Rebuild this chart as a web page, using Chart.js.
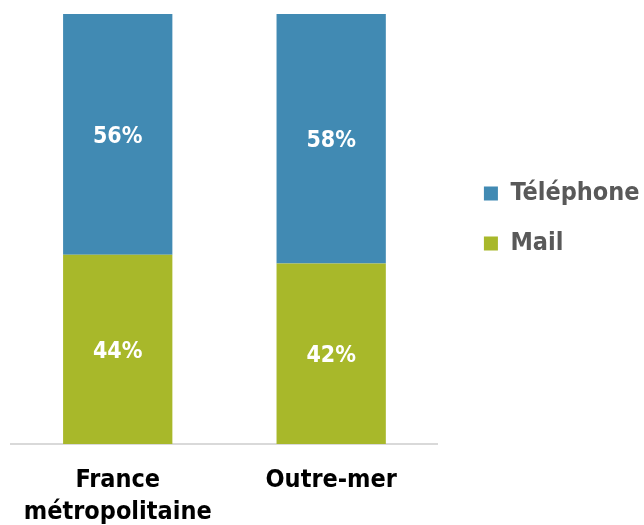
<!DOCTYPE html>
<html><head><meta charset="utf-8">
<script src="https://cdn.jsdelivr.net/npm/chart.js@4/dist/chart.umd.min.js"></script>
<style>html,body{margin:0;padding:0;background:#fff}#wrap{width:644px;height:525px}</style>
</head><body><div id="wrap"><canvas id="c" width="644" height="525"></canvas></div>
<script>
const categories = [["France", "métropolitaine"], "Outre-mer"];
const mailValues = [44, 42];
const telephoneValues = [56, 58];
const seriesNames = ["Mail", "Téléphone"];

const FONT = '"DejaVu Sans Condensed", "DejaVu Sans"';
const LEGEND_SHIFT = 21;

const labelPlugin = {
  id: 'barLabels',
  afterLayout(chart) {
    // move the legend a little further right, leaving the plot area in place
    const lg = chart.legend;
    if (lg) { lg.left += LEGEND_SHIFT; lg.right += LEGEND_SHIFT; }
  },
  afterDatasetsDraw(chart) {
    const ctx = chart.ctx;
    const size = 23;
    ctx.save();
    ctx.fillStyle = '#ffffff';
    ctx.font = 'bold ' + size + 'px ' + FONT;
    ctx.textAlign = 'center';
    ctx.textBaseline = 'alphabetic';
    chart.data.datasets.forEach((ds, i) => {
      chart.getDatasetMeta(i).data.forEach((bar, j) => {
        const y = (bar.y + bar.base) / 2 + size * 0.729 / 2;
        ctx.fillText(ds.data[j] + '%', bar.x, y);
      });
    });
    ctx.restore();
  }
};

new Chart(document.getElementById('c'), {
  type: 'bar',
  data: {
    labels: categories,
    datasets: [
      { label: seriesNames[0], data: mailValues, backgroundColor: '#A8B82A' },
      { label: seriesNames[1], data: telephoneValues, backgroundColor: '#418AB3' }
    ]
  },
  options: {
    responsive: false,
    animation: false,
    layout: { padding: { left: 11, top: 14, right: 15.5, bottom: -24 } },
    datasets: { bar: { categoryPercentage: 1.0, barPercentage: 0.512 } },
    scales: {
      x: {
        stacked: true,
        grid: { display: false, drawTicks: false },
        border: { display: true, color: '#D9D9D9', width: 2 },
        ticks: { color: '#000', font: { family: FONT, weight: 'bold', size: 25, lineHeight: 1.26 }, padding: 21, maxRotation: 0, autoSkip: false }
      },
      y: {
        stacked: true, min: 0, max: 100, display: false
      }
    },
    plugins: {
      legend: {
        position: 'right',
        align: 'start',
        reverse: true,
        title: { display: true, text: '', font: { size: 10, lineHeight: 1.2 }, padding: { top: 130, bottom: 0 } },
        labels: {
          boxWidth: 14, boxHeight: 14, padding: 25,
          color: '#595959',
          font: { family: FONT, weight: 'bold', size: 25 }
        }
      },
      tooltip: { enabled: false }
    }
  },
  plugins: [labelPlugin]
});
</script></body></html>
